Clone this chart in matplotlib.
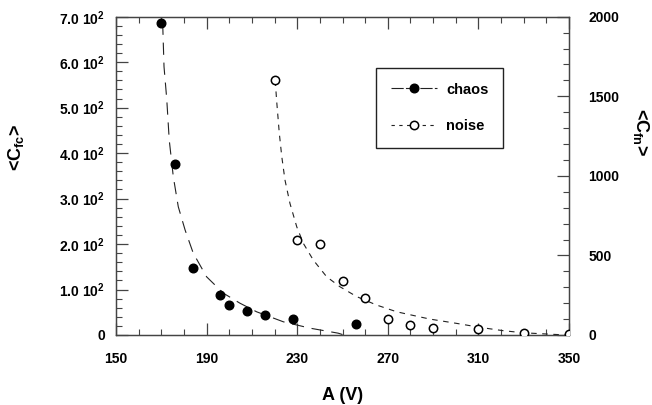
import matplotlib
matplotlib.use("Agg")
import matplotlib.pyplot as plt
from matplotlib.ticker import MultipleLocator, FuncFormatter

plt.rcParams["font.family"] = ["Liberation Sans", "DejaVu Sans"]
plt.rcParams["mathtext.fontset"] = "custom"
plt.rcParams["mathtext.rm"] = "Liberation Sans:bold"
plt.rcParams["mathtext.bf"] = "Liberation Sans:bold"

chaos_A = [170, 176, 184, 196, 200, 208, 216, 228, 256]
chaos_C = [687, 376, 147, 87, 65, 53, 43, 36, 25]

noise_A = [220, 230, 240, 250, 260, 270, 280, 290, 310, 330, 350]
noise_C = [1600, 597, 570, 341, 235, 99, 63, 46, 40, 15, 4]

# Fitted curves
chaos_fit_A = [170.6, 171.2, 172.4, 173.5, 175.3, 177.5, 180.5, 184.1, 190.0,
               197.4, 204.7, 212.1, 223.9, 235.7, 248.1, 250.0]
chaos_fit_C = [687, 590, 519, 429, 348, 282, 231, 180, 128,
               92, 70, 51, 29, 15, 4, 1]

noise_fit_A = [220.3, 220.9, 222.1, 223.2, 224.6, 226.8, 229.8, 232.7, 237.1,
               243.0, 248.9, 256.3, 265.1, 273.9, 278.3, 288.6, 300.4, 310.7,
               321.0, 329.8, 343.1, 349.6]
noise_fit_C = [1600, 1476, 1267, 1120, 974, 827, 680, 576, 471,
               366, 303, 241, 188, 146, 132, 100, 73, 48,
               27, 14, 4, 0]

x_ticks = [150, 190, 230, 270, 310, 350]

fig = plt.figure(figsize=(6.52, 4.05), dpi=100)
ax = fig.add_axes([116 / 652, 1 - 335 / 405, 453 / 652, 318.3 / 405])
ax2 = ax.twinx()

spine_col = "#444444"
for a in (ax, ax2):
    for s in a.spines.values():
        s.set_color(spine_col)
        s.set_linewidth(0.9)

# chaos on the left axis
ax.plot(chaos_fit_A, chaos_fit_C, color="#222222", lw=0.8, dashes=(11, 7))
ax.plot(chaos_A, chaos_C, "o", color="black", ms=6.2, zorder=3)

# noise on the right axis
ax2.plot(noise_fit_A, noise_fit_C, color="#222222", lw=0.8, dashes=(5, 5))
ax2.plot(noise_A, noise_C, "o", mfc="white", mec="black", mew=1.1,
         ms=6, zorder=3)

ax.set_xlim(150, 350)
ax.set_ylim(0, 700)
ax2.set_ylim(0, 2000)

ax.set_xticks(x_ticks)
ax.xaxis.set_minor_locator(MultipleLocator(10))
ax.yaxis.set_major_locator(MultipleLocator(100))
ax.yaxis.set_minor_locator(MultipleLocator(20))
ax2.yaxis.set_major_locator(MultipleLocator(500))
ax2.yaxis.set_minor_locator(MultipleLocator(100))

ax.yaxis.set_major_formatter(
    FuncFormatter(lambda v, p: "0" if v == 0 else "%.1f 10$^2$" % (v / 100)))

ax.tick_params(which="both", direction="in", top=True, right=False,
               color=spine_col, labelsize=10)
ax.tick_params(which="major", length=8.5, width=0.9)
ax.tick_params(which="minor", length=4.3, width=0.8)
ax.tick_params(axis="x", pad=12)
ax.tick_params(axis="y", pad=8)
ax2.tick_params(which="both", direction="in", color=spine_col, labelsize=10,
                pad=14)
ax2.tick_params(which="major", length=8.5, width=0.9)
ax2.tick_params(which="minor", length=4.3, width=0.8)
for lab in ax.get_xticklabels() + ax.get_yticklabels() + ax2.get_yticklabels():
    lab.set_fontweight("bold")

ax.set_xlabel("A (V)", fontsize=13, fontweight="bold", labelpad=15)

fig.text(16 / 652, 1 - 147 / 405, r"<C$_\mathbf{fc}$>", rotation=90,
         fontsize=13, fontweight="bold", ha="center", va="center")
fig.text(641 / 652, 1 - 132 / 405, r"<C$_\mathbf{fn}$>", rotation=270,
         fontsize=13, fontweight="bold", ha="center", va="center")

# Legend with the curve dashes in the handles
h1, = ax.plot([], [], color="#222222", lw=0.8, dashes=(11, 2), marker="o",
              mfc="black", mec="black", ms=6.2)
h2, = ax.plot([], [], color="#222222", lw=0.8, dashes=(3, 4), marker="o",
              mfc="white", mec="black", mew=1.1, ms=6)
leg = ax2.legend([h1, h2], ["chaos", "noise"], loc="upper left",
                 bbox_to_anchor=(376 / 652, 1 - 68 / 405),
                 bbox_transform=fig.transFigure, borderaxespad=0,
                 prop={"size": 10.5, "weight": "bold"},
                 handlelength=3.2, handletextpad=0.6,
                 borderpad=1.0, labelspacing=1.55, fancybox=False,
                 framealpha=1, edgecolor="#222222", numpoints=1)
leg.get_frame().set_linewidth(1.0)

fig.savefig("out.png", dpi=100)
